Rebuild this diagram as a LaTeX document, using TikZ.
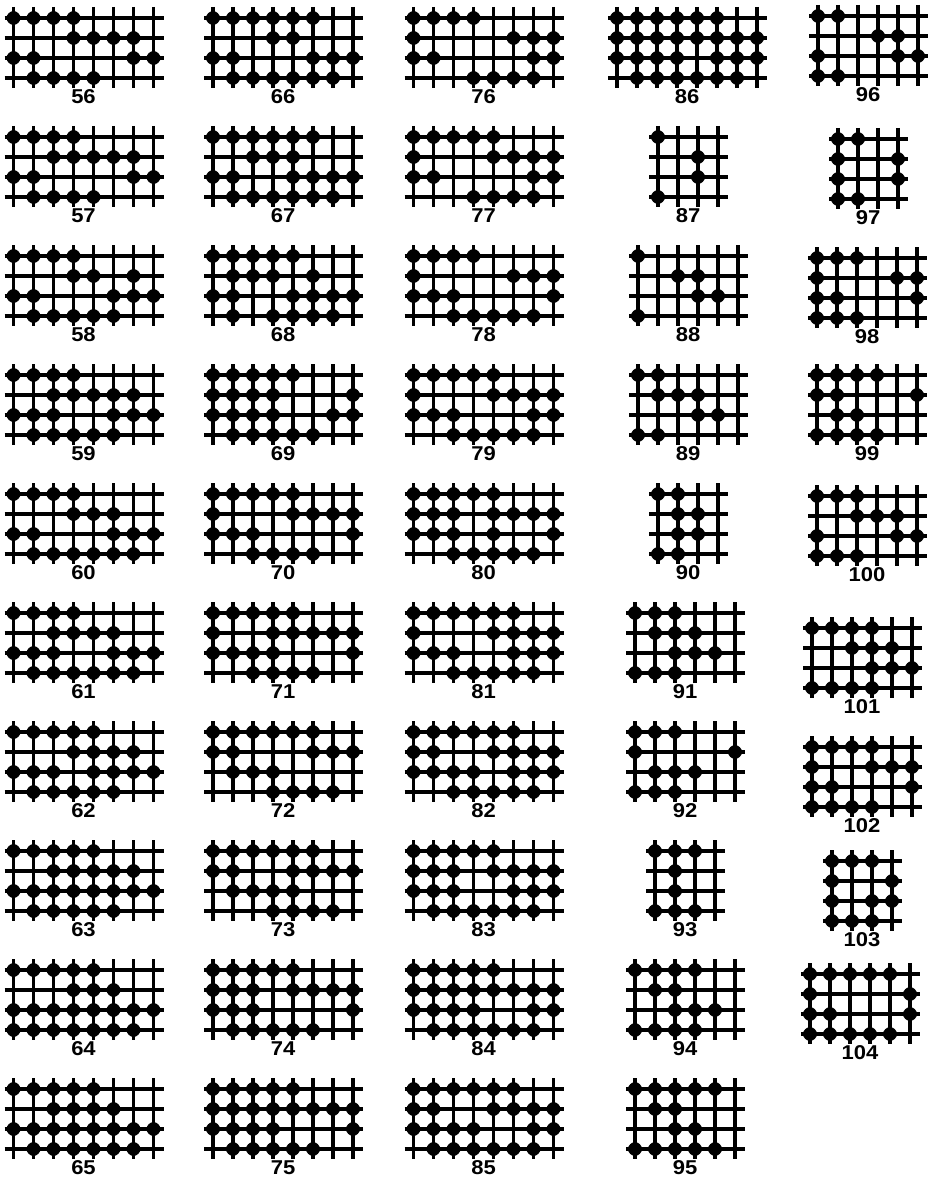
\documentclass[tikz,border=0pt]{standalone}
\usepackage{fontspec}
\usepackage{graphicx}
\newfontfamily\labfont{Liberation Sans}
\tikzset{
  gl/.style={line width=3.5pt, line cap=butt},
  lab/.style={font=\labfont\bfseries\fontsize{20}{20}\selectfont, inner sep=0pt, anchor=center},
  blob/.pic={
    \fill[rounded corners=1.2pt] (-9,0) -- (0,-8) -- (9,0) -- (0,8) -- cycle;
    \fill (0,0) circle[radius=6.8pt];
  }
}
% #1 label, #2 x of first column, #3 y of label, #4 columns, #5-#8 dotted columns of rows 1-4
\newcommand{\dotgrid}[8]{%
  \begin{scope}[shift={(#2,#3-79)}]
    \foreach \rr in {0,20,40,60} \draw[gl] (-9,\rr) -- ({(#4-1)*20+10},\rr);
    \foreach \cc in {1,...,#4} \draw[gl] ({(\cc-1)*20},-11) -- ({(\cc-1)*20},70);
    \foreach \cc in {#5} \pic at ({(\cc-1)*20},0) {blob};
    \foreach \cc in {#6} \pic at ({(\cc-1)*20},20) {blob};
    \foreach \cc in {#7} \pic at ({(\cc-1)*20},40) {blob};
    \foreach \cc in {#8} \pic at ({(\cc-1)*20},60) {blob};
  \end{scope}
  \node[lab] (g#1) at ({#2+(#4-1)*10},#3) {\scalebox{1.1}[1]{#1}};
}
\begin{document}
\begin{tikzpicture}[x=1pt,y=-1pt]
\useasboundingbox (0,0) rectangle (932,1201);
% column 1
\dotgrid{56}{13.5}{97}{8}{1,2,3,4}{4,5,6,7}{1,2,7,8}{2,3,4,5}
\dotgrid{57}{13.5}{216}{8}{1,2,3,4}{3,4,5,6,7}{1,2,7,8}{2,3,4,5}
\dotgrid{58}{13.5}{335}{8}{1,2,3,4}{4,5,7}{1,2,6,7,8}{2,3,4,5,6}
\dotgrid{59}{13.5}{454}{8}{1,2,3,4}{3,4,5,6,7}{1,2,3,6,7,8}{2,3,4,5,6}
\dotgrid{60}{13.5}{573}{8}{1,2,3,4}{4,5,6}{1,2,6,7,8}{2,3,4,5,6,7}
\dotgrid{61}{13.5}{692}{8}{1,2,3,4}{3,4,5,6}{1,2,3,6,7,8}{2,3,4,5,6,7}
\dotgrid{62}{13.5}{811}{8}{1,2,3,4,5}{4,5,6,7}{1,2,3,5,6,7,8}{2,3,4,5,6}
\dotgrid{63}{13.5}{930}{8}{1,2,3,4,5}{3,4,5,6,7}{1,2,3,4,5,6,7,8}{2,3,4,5,6}
\dotgrid{64}{13.5}{1049}{8}{1,2,3,4,5}{4,5,6}{1,2,3,4,5,6,7,8}{1,2,3,4,5,6,7}
\dotgrid{65}{13.5}{1168}{8}{1,2,3,4,5}{3,4,5,6}{1,2,3,4,5,6,7,8}{2,3,4,5,6,7}
% column 2
\dotgrid{66}{213}{97}{8}{1,2,3,4,5,6}{4,5}{1,2,6,7,8}{2,3,4,5,6,7}
\dotgrid{67}{213}{216}{8}{1,2,3,4,5,6}{3,4,5}{1,2,5,6,7,8}{2,3,4,5,6,7}
\dotgrid{68}{213}{335}{8}{1,2,3,4,5}{2,3,4,6}{1,2,5,6,7,8}{2,4,5,6,7}
\dotgrid{69}{213}{454}{8}{1,2,3,4,5}{1,2,3,4,8}{1,2,3,4,7,8}{2,3,4,5,6}
\dotgrid{70}{213}{573}{8}{1,2,3,4,5}{1,5,6,7,8}{1,2,3,8}{3,4,5,6}
\dotgrid{71}{213}{692}{8}{1,2,3,4,5}{1,4,5,6,7,8}{1,2,3,4,8}{3,4,5,6}
\dotgrid{72}{213}{811}{8}{1,2,3,4,5,6}{1,2,6,7,8}{2,3,4}{4,5,6,7}
\dotgrid{73}{213}{930}{8}{1,2,3,4,5,6}{1,2,5,6,7,8}{2,3,4,5}{4,5,6,7}
\dotgrid{74}{213}{1049}{8}{1,2,3,4,5}{1,2,3,5,6,7,8}{1,2,3,8}{2,3,4,5,6}
\dotgrid{75}{213}{1168}{8}{1,2,3,4,5}{1,2,3,4,5,6,7,8}{1,2,3,4,8}{2,3,4,5,6}
% column 3
\dotgrid{76}{413.5}{97}{8}{1,2,3,4}{1,6,7,8}{1,2,7,8}{4,5,6,7}
\dotgrid{77}{413.5}{216}{8}{1,2,3,4,5}{1,5,6,7,8}{1,2,7,8}{4,5,6,7}
\dotgrid{78}{413.5}{335}{8}{1,2,3,4}{1,6,7,8}{1,2,3,8}{3,4,5,6,7}
\dotgrid{79}{413.5}{454}{8}{1,2,3,4,5}{1,5,6,7,8}{1,2,3,7,8}{3,4,5,6,7}
\dotgrid{80}{413.5}{573}{8}{1,2,3,4,5}{1,2,3,5,6,7,8}{1,2,3,5,8}{3,4,5,6,7}
\dotgrid{81}{413.5}{692}{8}{1,2,3,4,5,6}{1,5,6,7,8}{1,2,3,6,7,8}{3,4,5,6,7}
\dotgrid{82}{413.5}{811}{8}{1,2,3,4,5,6}{1,2,5,6,7,8}{1,2,3,4,6,7,8}{3,4,5,6,7}
\dotgrid{83}{413.5}{930}{8}{1,2,3,4,5}{1,2,3,5,6,7,8}{1,2,3,6,7,8}{2,3,4,5,6,7}
\dotgrid{84}{413.5}{1049}{8}{1,2,3,4,5}{1,2,3,4,5,6,7,8}{1,2,3,4,7,8}{2,3,4,5,6,7}
\dotgrid{85}{413.5}{1168}{8}{1,2,3,4,5,6}{1,2,5,6,7,8}{1,2,3,4,7,8}{2,3,4,5,6,7}
% column 4
\dotgrid{86}{617}{97}{8}{1,2,3,4,5,6}{1,2,3,4,5,6,7,8}{1,2,3,4,6,7,8}{2,3,4,5,6,7}
\dotgrid{87}{658}{216}{4}{1}{3}{3}{1}
\dotgrid{88}{638}{335}{6}{1}{3,4}{4,5}{1}
\dotgrid{89}{638}{454}{6}{1,2}{2,3,4}{4,5}{1,2}
\dotgrid{90}{658}{573}{4}{1,2}{2,3}{2,3}{1,2}
\dotgrid{91}{635}{692}{6}{1,2,3}{2,3,4}{3,4,5}{1,2,3}
\dotgrid{92}{635}{811}{6}{1,2,3}{1,6}{2,3,4}{1,2,3}
\dotgrid{93}{655}{930}{4}{1,2,3}{2}{2}{1,2,3}
\dotgrid{94}{635}{1049}{6}{1,2,3,4}{2,3}{3,4,5}{1,2,3,4}
\dotgrid{95}{635}{1168}{6}{1,2,3,4,5}{2,3}{3,4}{1,2,3,4,5}
% column 5
\dotgrid{96}{818}{95}{6}{1,2}{4,5}{1,5,6}{1,2}
\dotgrid{97}{838}{218}{4}{1,2}{1,4}{1,4}{1,2}
\dotgrid{98}{817}{337}{6}{1,2,3}{1,5,6}{1,2,6}{1,2,3}
\dotgrid{99}{817}{454}{6}{1,2,3,4}{1,2,6}{2,3}{1,2,3,4}
\dotgrid{100}{817}{575}{6}{1,2,3}{3,4,5}{1,5,6}{1,2,3}
\dotgrid{101}{812}{707}{6}{1,2,3,4}{3,4,5}{4,5,6}{1,2,3,4}
\dotgrid{102}{812}{826}{6}{1,2,3,4}{1,4,5,6}{1,2,6}{1,2,3,4}
\dotgrid{103}{832}{940}{4}{1,2,3}{1,4}{1,3,4}{1,2,3}
\dotgrid{104}{810}{1053}{6}{1,2,3,4,5}{1,6}{1,2,6}{1,2,3,4,5}
\end{tikzpicture}
\end{document}
